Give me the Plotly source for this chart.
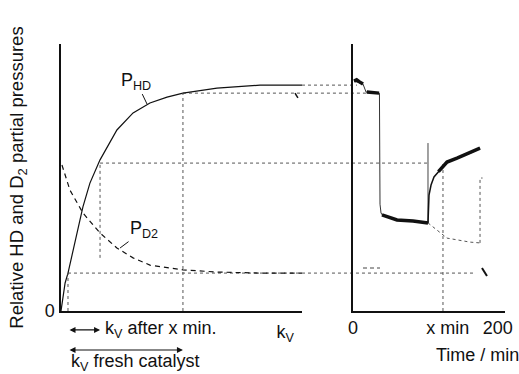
import plotly.graph_objects as go

# ---------------- data ----------------
# Left panel: relative partial pressures vs k_v (normalised k_v axis, 0..1)
kv_hd = [0, 0.004, 0.008, 0.017, 0.029, 0.066, 0.091, 0.120, 0.162, 0.232,
         0.299, 0.369, 0.440, 0.506, 0.647, 0.826, 1.0]
p_hd = [0, 0.030, 0.060, 0.105, 0.142, 0.292, 0.390, 0.479, 0.566, 0.678,
        0.742, 0.779, 0.801, 0.816, 0.835, 0.846, 0.846]
kv_d2 = [0.004, 0.037, 0.091, 0.162, 0.232, 0.299, 0.369, 0.506, 0.647, 0.826, 1.0]
p_d2 = [0.547, 0.453, 0.367, 0.292, 0.236, 0.199, 0.172, 0.154, 0.146, 0.142, 0.142]

# Right panel: HD signal vs time (min)
t_main = [1.4, 13.8, 18, 36, 36.5, 37.3, 38.7, 41.4, 51.1, 60.8, 82.9, 103.6]
y_main = [0.861, 0.850, 0.820, 0.816, 0.816, 0.400, 0.367, 0.356, 0.348, 0.341, 0.337, 0.330]
t_noisy_a = [1.4, 5, 9, 13.8]
y_noisy_a = [0.861, 0.866, 0.858, 0.850]
t_noisy_b = [19, 27, 36]
y_noisy_b = [0.820, 0.818, 0.816]
t_noisy_c = [40, 51.1, 60.8, 82.9, 103.6]
y_noisy_c = [0.360, 0.348, 0.341, 0.337, 0.330]
t_recov = [103.6, 104, 105, 107.8, 111.9, 120.2, 129.9, 143.7, 161.6, 175.5]
y_recov = [0.330, 0.380, 0.434, 0.472, 0.502, 0.528, 0.558, 0.573, 0.592, 0.610]
t_noisy_d = [118, 129.9, 143.7, 161.6, 175.5]
y_noisy_d = [0.522, 0.558, 0.573, 0.592, 0.610]
t_spike = [103.6, 103.6]
y_spike = [0.330, 0.629]
t_extrap = [103.6, 110.5, 129.9, 161.6, 175.5]
y_extrap = [0.330, 0.315, 0.273, 0.258, 0.255]
t_extrap_v = [175.5, 175.5, 179]
y_extrap_v = [0.255, 0.498, 0.498]
t_d2 = [13.8, 37.3]
y_d2 = [0.161, 0.161]
t_end = [178.2, 185.1]
y_end = [0.161, 0.131]

# guide levels (y) and their extents
level_y = [0.846, 0.816, 0.554, 0.142]
level_kv_start = [1.0, 0.506, 0.162, 0.029]
level_t_end = [5.5, 19.3, 106.4, 165.8]
vguide_kv = [0.029, 0.162, 0.506]
vguide_kv_y0 = [0, 0.199, 0]
vguide_kv_y1 = [0.142, 0.554, 0.816]
vguide_t = [124.3]
vguide_t_y1 = [0.554]

x_tick_t = [0, 131, 200]
x_tick_t_text = ["0", "x min", "200"]

# ---------------- layout helpers ----------------
W, H = 519, 374
ML, MR, MT, MB = 61, 14, 44, 63
DOM_L = [0, 0.5428]
DOM_R = [0.6577, 1]
KV_RANGE = [0, 1]
T_RANGE = [0, 210]
Y_RANGE = [0, 1]


def paper_left(v):
    return DOM_L[0] + (v - KV_RANGE[0]) / (KV_RANGE[1] - KV_RANGE[0]) * (DOM_L[1] - DOM_L[0])


def paper_right(v):
    return DOM_R[0] + (v - T_RANGE[0]) / (T_RANGE[1] - T_RANGE[0]) * (DOM_R[1] - DOM_R[0])


FONT = "Liberation Sans, Arial, Helvetica, sans-serif"
BLACK = "#111111"
DOT = "#555555"

fig = go.Figure()

# Left panel curves
fig.add_trace(go.Scatter(x=kv_hd, y=p_hd, mode="lines", xaxis="x", yaxis="y",
                         line=dict(color=BLACK, width=1.2), showlegend=False))
fig.add_trace(go.Scatter(x=kv_d2, y=p_d2, mode="lines", xaxis="x", yaxis="y",
                         line=dict(color=BLACK, width=1.2, dash="5px,4px"), showlegend=False))
fig.add_trace(go.Scatter(x=[0.971, 0.983], y=[0.816, 0.798], mode="lines", xaxis="x", yaxis="y",
                         line=dict(color=BLACK, width=1.5), showlegend=False))

# Left vertical guides
for xv, y0, y1 in zip(vguide_kv, vguide_kv_y0, vguide_kv_y1):
    fig.add_trace(go.Scatter(x=[xv, xv], y=[y0, y1], mode="lines", xaxis="x", yaxis="y",
                             line=dict(color=DOT, width=1, dash="dot"), showlegend=False))

# Right panel
fig.add_trace(go.Scatter(x=t_extrap, y=y_extrap, mode="lines", xaxis="x2", yaxis="y2",
                         line=dict(color=DOT, width=1, dash="dot"), showlegend=False))
fig.add_trace(go.Scatter(x=t_extrap_v, y=y_extrap_v, mode="lines", xaxis="x2", yaxis="y2",
                         line=dict(color=DOT, width=1, dash="dot"), showlegend=False))
for xv, y1 in zip(vguide_t, vguide_t_y1):
    fig.add_trace(go.Scatter(x=[xv, xv], y=[0, y1], mode="lines", xaxis="x2", yaxis="y2",
                             line=dict(color=DOT, width=1, dash="dot"), showlegend=False))
fig.add_trace(go.Scatter(x=t_main, y=y_main, mode="lines", xaxis="x2", yaxis="y2",
                         line=dict(color="#333333", width=1), showlegend=False))
fig.add_trace(go.Scatter(x=t_spike, y=y_spike, mode="lines", xaxis="x2", yaxis="y2",
                         line=dict(color="#444444", width=1), showlegend=False))
fig.add_trace(go.Scatter(x=t_recov, y=y_recov, mode="lines", xaxis="x2", yaxis="y2",
                         line=dict(color=BLACK, width=1.5), showlegend=False))
for tx, ty in [(t_noisy_a, y_noisy_a), (t_noisy_b, y_noisy_b),
               (t_noisy_c, y_noisy_c), (t_noisy_d, y_noisy_d)]:
    fig.add_trace(go.Scatter(x=tx, y=ty, mode="lines", xaxis="x2", yaxis="y2",
                             line=dict(color=BLACK, width=3.5), showlegend=False))
fig.add_trace(go.Scatter(x=t_d2, y=y_d2, mode="lines", xaxis="x2", yaxis="y2",
                         line=dict(color="#444444", width=1, dash="4px,3px"), showlegend=False))
fig.add_trace(go.Scatter(x=t_end, y=y_end, mode="lines", xaxis="x2", yaxis="y2",
                         line=dict(color=BLACK, width=2), showlegend=False))

# Horizontal guide levels spanning both panels
shapes = []
for yv, x0, x1 in zip(level_y, level_kv_start, level_t_end):
    shapes.append(dict(type="line", xref="paper", yref="y",
                       x0=paper_left(x0), x1=paper_right(x1), y0=yv, y1=yv,
                       line=dict(color=DOT, width=1, dash="dot"), layer="below"))

ann_font = dict(family=FONT, size=18, color=BLACK)
annotations = [
    dict(text="P<sub>HD</sub>", x=0.357, y=0.775, xref="x", yref="y",
         ax=-11, ay=-23, showarrow=True, arrowhead=0, arrowwidth=1, arrowcolor=BLACK,
         font=ann_font),
    dict(text="P<sub>D2</sub>", x=0.245, y=0.236, xref="x", yref="y",
         ax=24, ay=-18, showarrow=True, arrowhead=0, arrowwidth=1, arrowcolor=BLACK,
         font=ann_font),
    dict(text="", x=0.162, y=-0.071, xref="x", yref="paper", axref="x", ax=0.029,
         ayref="pixel", ay=0, showarrow=True, arrowhead=2, arrowside="end+start",
         arrowwidth=1.2, arrowsize=1, arrowcolor=BLACK),
    dict(text="k<sub>V</sub> after x min.", x=0.174, y=-0.071, xref="x", yref="paper",
         xanchor="left", yanchor="middle", showarrow=False, font=ann_font),
    dict(text="", x=0.506, y=-0.146, xref="x", yref="paper", axref="x", ax=0.029,
         ayref="pixel", ay=0, showarrow=True, arrowhead=2, arrowside="end+start",
         arrowwidth=1.2, arrowsize=1, arrowcolor=BLACK),
    dict(text="k<sub>V</sub> fresh catalyst", x=0.033, y=-0.193, xref="x", yref="paper",
         xanchor="left", yanchor="middle", showarrow=False, font=ann_font),
    dict(text="Time / min", x=0.937, y=-0.165, xref="paper", yref="paper",
         xanchor="center", yanchor="middle", showarrow=False, font=ann_font),
]

axis_common = dict(showgrid=False, zeroline=False, showline=True, linecolor=BLACK,
                   linewidth=1.5, ticks="", automargin=False,
                   tickfont=dict(family=FONT, size=18, color=BLACK))

fig.update_layout(
    width=W, height=H,
    margin=dict(l=ML, r=MR, t=MT, b=MB, autoexpand=False),
    paper_bgcolor="white", plot_bgcolor="white",
    showlegend=False,
    font=dict(family=FONT, size=18, color=BLACK),
    xaxis=dict(domain=DOM_L, range=KV_RANGE, anchor="y",
               tickvals=[0.93], ticktext=["k<sub>V</sub>"], ticklabelstandoff=4,
               **axis_common),
    yaxis=dict(domain=[0, 1], range=Y_RANGE, anchor="x",
               tickvals=[0], ticktext=["0"], ticklabelstandoff=1,
               title=dict(text="Relative HD and D<sub>2</sub> partial pressures",
                          font=dict(family=FONT, size=18.5, color=BLACK), standoff=16),
               **axis_common),
    xaxis2=dict(domain=DOM_R, range=T_RANGE, anchor="y2",
                tickvals=x_tick_t, ticktext=x_tick_t_text, **axis_common),
    yaxis2=dict(domain=[0, 1], range=Y_RANGE, anchor="x2", matches="y",
                showticklabels=False, **axis_common),
    shapes=shapes,
    annotations=annotations,
)

fig.write_html("out.html", config={"displayModeBar": False},
               post_script="document.body.style.margin='0px';document.body.style.overflow='hidden';")
